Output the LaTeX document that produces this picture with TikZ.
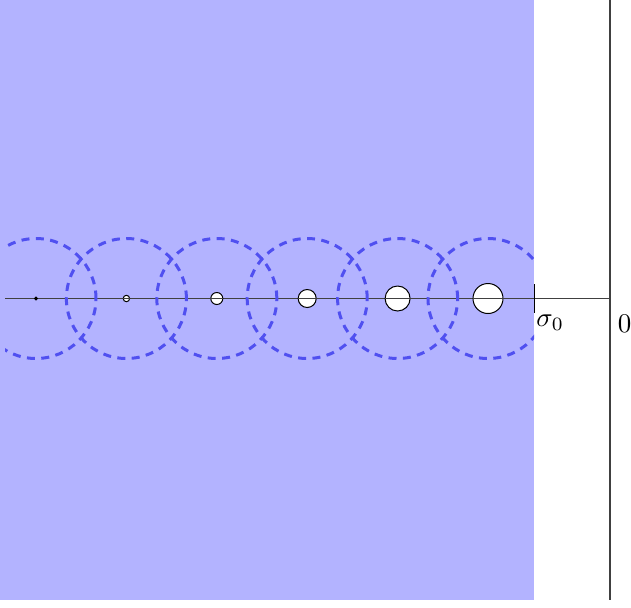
\documentclass[tikz,border=0pt]{standalone}
\usetikzlibrary{calc}
\definecolor{regionblue}{RGB}{179,179,255}
\definecolor{dashblue}{RGB}{80,80,240}
\tikzset{
  axisline/.style={line width=0.7pt, draw=black!75},
  discbox/.style={circle, draw=dashblue, line width=1.5pt, dash pattern=on 4pt off 3.2pt, minimum size=60pt, inner sep=0pt},
  hole/.style={circle, draw=black, fill=white, line width=0.5pt, inner sep=0pt},
  lbl/.style={inner sep=0pt}
}
\begin{document}
\begin{tikzpicture}[x=0.5pt,y=-0.5pt]
\useasboundingbox (0,0) rectangle (631,607);
\fill[regionblue] (0,0) rectangle (534,600);
% axes
\coordinate (xl) at (5,298.5);
\coordinate (xr) at (610,298.5);
\coordinate (yt) at (610,0);
\coordinate (yb) at (610,600);
\draw[axisline] (xl) -- (xr);
\draw[axisline] (yt) -- (yb);
% dashed disks, clipped to the region
\begin{scope}
\clip (5,0) rectangle (534,600);
\foreach \i/\cx in {1/36,2/126.4,3/216.8,4/307.2,5/397.6,6/488}{
  \node[discbox] (d\i) at (\cx,298.5) {};
}
\end{scope}
% holes
\node[hole, minimum size=1.5pt, fill=black] (h1) at (36,298.5) {};
\node[hole, minimum size=3.2pt] (h2) at (126.4,298.5) {};
\node[hole, minimum size=6pt] (h3) at (216.8,298.5) {};
\node[hole, minimum size=9pt] (h4) at (307.2,298.5) {};
\node[hole, minimum size=12.5pt] (h5) at (397.6,298.5) {};
\node[hole, minimum size=15pt] (h6) at (488,298.5) {};
\draw[axisline] (h2.west) -- (h2.east);
\draw[axisline] (h3.west) -- (h3.east);
\draw[axisline] (h4.west) -- (h4.east);
\draw[axisline] (h5.west) -- (h5.east);
\draw[axisline] (h6.west) -- (h6.east);
% tick
\coordinate (tt) at (534.5,284);
\coordinate (tb) at (534.5,313);
\draw[line width=0.6pt] (tt) -- (tb);
\node[lbl, anchor=north west] (s0) at (536,314) {\scalebox{1.35}{$\sigma_0$}};
\node[lbl, anchor=north west] (z0) at (617.5,315) {\scalebox{1.35}{$0$}};
\end{tikzpicture}
\end{document}
